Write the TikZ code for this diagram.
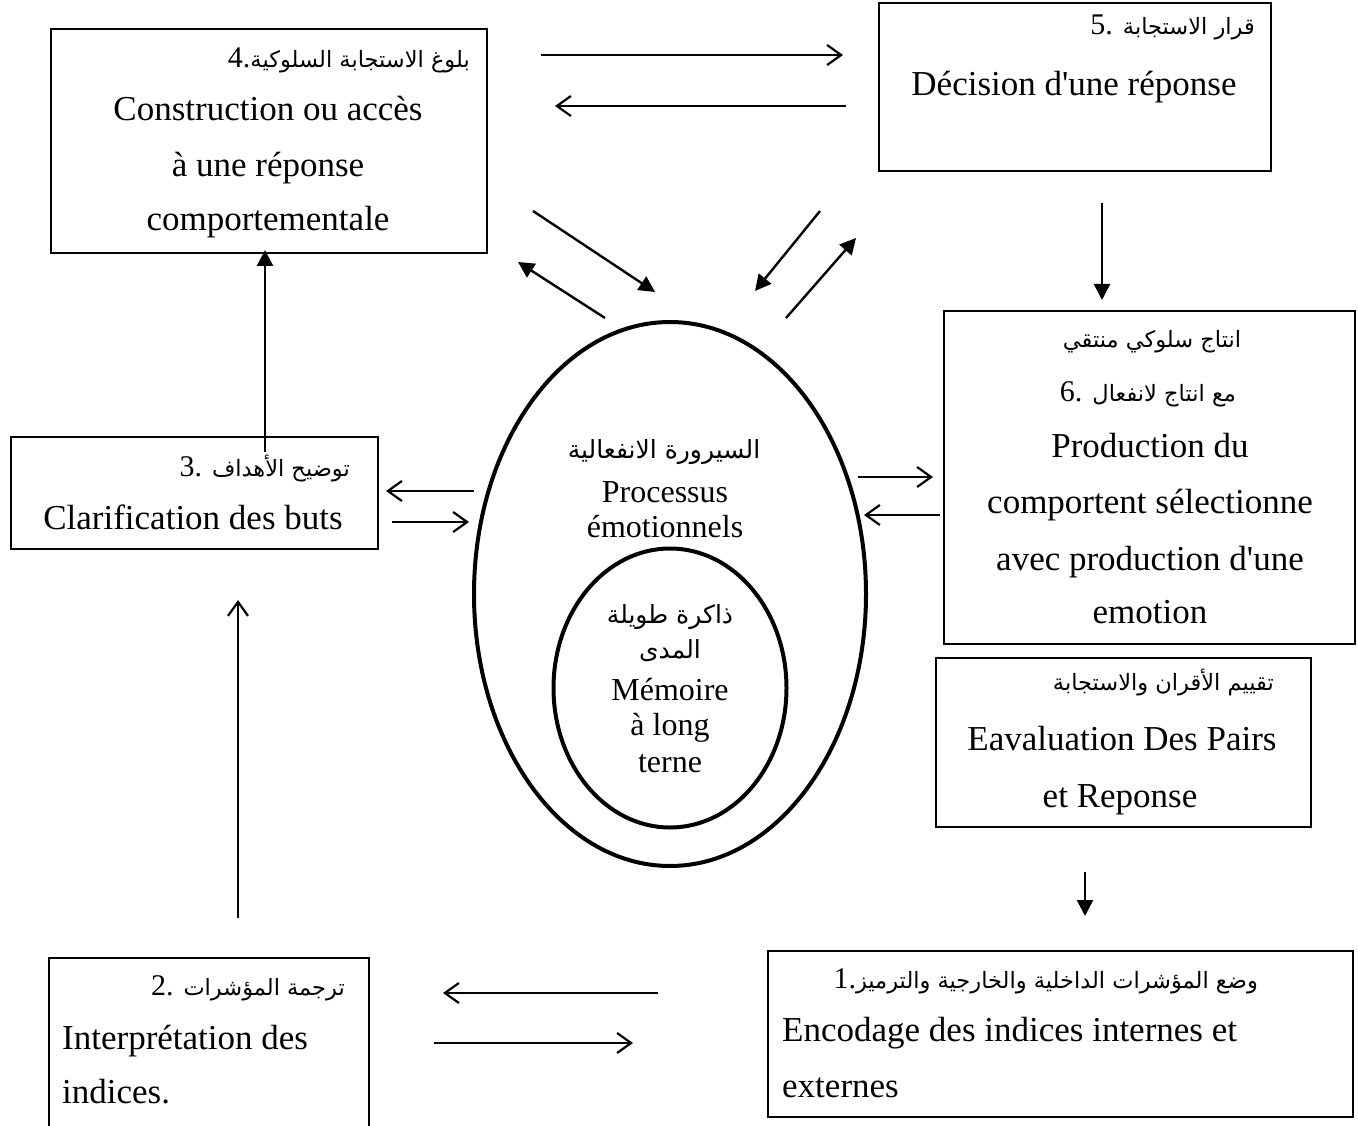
\documentclass[tikz,border=0pt]{standalone}
\usepackage{fontspec}
\setmainfont{Liberation Serif}
\newfontfamily\frfont{Liberation Serif}
\newfontfamily\arabicfont[Script=Arabic]{DejaVu Sans}
\TeXXeTstate=1
\usetikzlibrary{arrows.meta,shapes.geometric}
\newcommand\AR[2][22.5]{{\arabicfont\fontsize{#1}{#1}\selectfont\beginR #2\endR}}
\begin{document}
\begin{tikzpicture}[x=1pt,y=-1pt,
  box/.style={draw,line width=2pt,inner sep=0pt,anchor=north west},
  fr/.style={inner sep=0pt,font=\frfont\fontsize{35}{42}\selectfont,anchor=base},
  frw/.style={fr,anchor=base west},
  ar/.style={inner sep=0pt,font=\frfont\fontsize{30}{34}\selectfont,anchor=base east},
  arc/.style={ar,anchor=base},
  el/.style={inner sep=0pt,font=\frfont\fontsize{32}{36}\selectfont,anchor=base},
  oval/.style={draw,ellipse,line width=4pt,inner sep=0pt},
  opena/.style={line width=2.2pt,-{Straight Barb[length=14pt,width=20pt,line width=2.2pt]}},
  fulla/.style={line width=2.4pt,-{Triangle[length=16pt,width=16pt]}}]
\useasboundingbox (0,0) rectangle (1358,1126);
\clip (0,0) rectangle (1358,1126);
% boxes
\node[box,minimum width=436pt,minimum height=224pt] (b4) at (50,28) {};
\node[box,minimum width=392pt,minimum height=168pt] (b5) at (878,2) {};
\node[box,minimum width=367pt,minimum height=112pt] (b3) at (10,436) {};
\node[box,minimum width=411pt,minimum height=333pt] (b6) at (943,310) {};
\node[box,minimum width=375pt,minimum height=169pt] (be) at (935,657) {};
\node[box,minimum width=320pt,minimum height=190pt] (b2) at (48,957) {};
\node[box,minimum width=585pt,minimum height=166pt] (b1) at (767,950) {};
% ellipses
\node[oval,minimum width=392pt,minimum height=544pt] (outer) at (670,594) {};
\node[oval,minimum width=233pt,minimum height=279pt] (inner) at (670,688) {};
% box 4
\node[ar] (t4a) at (470,68) {4.\AR{بلوغ الاستجابة السلوكية}};
\node[fr] (t4b) at (268,121) {Construction ou accès};
\node[fr] (t4c) at (268,177) {à une réponse};
\node[fr] (t4d) at (268,231) {comportementale};
% box 5
\node[ar] (t5a) at (1255,35) {5. \AR{قرار الاستجابة}};
\node[fr] (t5b) at (1074,96) {Décision d'une réponse};
% box 3
\node[ar] (t3a) at (350,476) {3. \AR{توضيح الأهداف}};
\node[fr] (t3b) at (193,529) {Clarification des buts};
% ellipse texts
\node[el] (e1) at (664,458) {\AR[25]{السيرورة الانفعالية}};
\node[el] (e2) at (665,502) {Processus};
\node[el] (e3) at (665,537) {émotionnels};
\node[el] (i1) at (670,623) {\AR[25]{ذاكرة طويلة}};
\node[el] (i2) at (670,658) {\AR[25]{المدى}};
\node[el] (i3) at (670,700) {Mémoire};
\node[el] (i4) at (670,735) {à long};
\node[el] (i5) at (670,772) {terne};
% box 6
\node[arc] (t6a) at (1152,347) {\AR{انتاج سلوكي منتقي}};
\node[arc] (t6b) at (1148,401) {6. \AR{مع انتاج لانفعال}};
\node[fr] (t6c) at (1150,457) {Production du};
\node[fr] (t6d) at (1150,513) {comportent sélectionne};
\node[fr] (t6e) at (1150,570) {avec production d'une};
\node[fr] (t6f) at (1150,623) {emotion};
% evaluation box
\node[ar] (tea) at (1274,690) {\AR{تقييم الأقران والاستجابة}};
\node[fr] (teb) at (1122,750) {Eavaluation Des Pairs};
\node[fr] (tec) at (1120,807) {et Reponse};
% box 2
\node[ar] (t2a) at (345,995) {2. \AR{ترجمة المؤشرات}};
\node[frw] (t2b) at (62,1049) {Interprétation des};
\node[frw] (t2c) at (62,1103) {indices.};
% box 1
\node[ar] (t1a) at (1258,988) {1.\AR{وضع المؤشرات الداخلية والخارجية والترميز}};
\node[frw] (t1b) at (782,1041) {Encodage des indices internes et};
\node[frw] (t1c) at (782,1097) {externes};
% arrow end points
\coordinate (a1s) at (541,55);  \coordinate (a1e) at (843,55);
\coordinate (a2s) at (846,106); \coordinate (a2e) at (555,106);
\coordinate (d1s) at (533,211); \coordinate (d1e) at (655,292);
\coordinate (d2s) at (605,318); \coordinate (d2e) at (518,262);
\coordinate (d3s) at (820,211); \coordinate (d3e) at (755,291);
\coordinate (d4s) at (786,318); \coordinate (d4e) at (856,238);
\coordinate (v1s) at (1102,203); \coordinate (v1e) at (1102,300);
\coordinate (v2s) at (265,452); \coordinate (v2e) at (265,250);
\coordinate (h3s) at (474,491); \coordinate (h3e) at (386,491);
\coordinate (h4s) at (392,522); \coordinate (h4e) at (469,522);
\coordinate (h5s) at (858,477); \coordinate (h5e) at (933,477);
\coordinate (h6s) at (940,515); \coordinate (h6e) at (864,515);
\coordinate (v3s) at (238,918); \coordinate (v3e) at (238,600);
\coordinate (v4s) at (1085,872); \coordinate (v4e) at (1085,916);
\coordinate (h7s) at (658,993); \coordinate (h7e) at (443,993);
\coordinate (h8s) at (434,1043); \coordinate (h8e) at (633,1043);
% arrows
\draw[opena] (a1s) -- (a1e);
\draw[opena] (a2s) -- (a2e);
\draw[fulla] (d1s) -- (d1e);
\draw[fulla] (d2s) -- (d2e);
\draw[fulla] (d3s) -- (d3e);
\draw[fulla] (d4s) -- (d4e);
\draw[fulla] (v1s) -- (v1e);
\draw[fulla] (v2s) -- (v2e);
\draw[opena] (h3s) -- (h3e);
\draw[opena] (h4s) -- (h4e);
\draw[opena] (h5s) -- (h5e);
\draw[opena] (h6s) -- (h6e);
\draw[opena] (v3s) -- (v3e);
\draw[fulla] (v4s) -- (v4e);
\draw[opena] (h7s) -- (h7e);
\draw[opena] (h8s) -- (h8e);
\end{tikzpicture}
\end{document}
